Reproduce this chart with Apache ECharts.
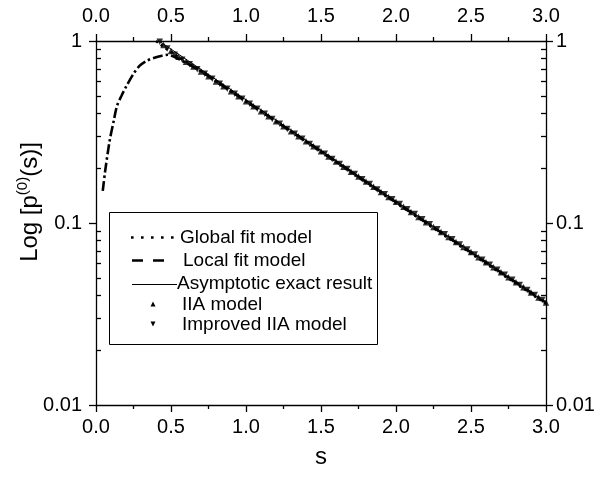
<!DOCTYPE html>
<html>
<head>
<meta charset="utf-8">
<script src="https://cdn.jsdelivr.net/npm/echarts@6/dist/echarts.min.js"></script>
<style>html,body{margin:0;padding:0;background:#fff}#c{width:601px;height:481px}</style>
</head>
<body>
<div id="c"></div>
<script>
// ---- data ----
var xTicks = ['0.0','0.5','1.0','1.5','2.0','2.5','3.0'];
var yTicks = ['0.01','0.1','1'];
var yMinorTicks = [0.02,0.03,0.04,0.05,0.06,0.07,0.08,0.09,0.2,0.3,0.4,0.5,0.6,0.7,0.8,0.9];

var asymS = [0.42, 3.0];
var asymV = [1.0, 0.0365];

var globalS = [0.40,0.45,0.50,0.60,0.70,0.80,0.90,1.00,1.20,1.40,1.60,1.80,2.00,2.20,2.40,2.60,2.80,3.00];
var globalV = [1.0,0.93,0.87,0.77,0.685,0.605,0.532,0.468,0.362,0.280,0.216,0.167,0.129,0.100,0.0775,0.060,0.0465,0.036];

var localS = [0.045,0.06,0.09,0.12,0.14,0.17,0.20,0.25,0.29,0.34,0.39,0.44,0.48,0.52,0.56,0.60,0.70,0.80,1.00,1.50,2.00,2.50,3.00];
var localV = [0.15,0.19,0.28,0.37,0.44,0.50,0.56,0.66,0.73,0.78,0.81,0.83,0.84,0.82,0.79,0.76,0.68,0.60,0.466,0.248,0.130,0.069,0.0365];

var iiaS = [0.45,0.50,0.55,0.60,0.65,0.70,0.75,0.80,0.85,0.90,0.95,1.00,1.05,1.10,1.15,1.20,1.25,1.30,1.35,1.40,1.45,1.50,1.55,1.60,1.65,1.70,1.75,1.80,1.85,1.90,1.95,2.00,2.05,2.10,2.15,2.20,2.25,2.30,2.35,2.40,2.45,2.50,2.55,2.60,2.65,2.70,2.75,2.80,2.85,2.90,2.95,3.00];
var iiaV = [0.95,0.88,0.82,0.77,0.725,0.68,0.64,0.60,0.565,0.53,0.497,0.466,0.438,0.411,0.386,0.362,0.340,0.319,0.300,0.281,0.264,0.248,0.232,0.218,0.204,0.191,0.180,0.169,0.158,0.148,0.139,0.131,0.123,0.115,0.108,0.101,0.0950,0.0892,0.0838,0.0786,0.0737,0.0692,0.0649,0.0609,0.0571,0.0536,0.0503,0.0472,0.0443,0.0415,0.0390,0.0366];

var impS = [0.425,0.475,0.525,0.575,0.625,0.675,0.725,0.775,0.825,0.875,0.925,0.975,1.025,1.075,1.125,1.175,1.225,1.275,1.325,1.375,1.425,1.475,1.525,1.575,1.625,1.675,1.725,1.775,1.825,1.875,1.925,1.975,2.025,2.075,2.125,2.175,2.225,2.275,2.325,2.375,2.425,2.475,2.525,2.575,2.625,2.675,2.725,2.775,2.825,2.875,2.925,2.975];
var impV = [0.99,0.91,0.84,0.79,0.745,0.70,0.66,0.62,0.583,0.546,0.513,0.481,0.452,0.424,0.398,0.373,0.351,0.328,0.309,0.290,0.272,0.256,0.240,0.225,0.211,0.198,0.186,0.174,0.164,0.153,0.144,0.135,0.127,0.119,0.112,0.105,0.0985,0.0923,0.0866,0.0813,0.0762,0.0715,0.0671,0.0629,0.0590,0.0553,0.0519,0.0487,0.0457,0.0428,0.0402,0.0377];

var legendNames = ['Global fit model','Local fit model','Asymptotic exact result','IIA model','Improved IIA model'];

function pairs(a,b){ return a.map(function(v,i){ return [v,b[i]]; }); }

var FONT = '"Liberation Sans", Arial, sans-serif';
var chart = echarts.init(document.getElementById('c'), null, {renderer:'canvas'});

function xAx(pos, showName){
  return {
    type:'value', position:pos, min:0, max:3, interval:0.5,
    name: showName ? 's' : '', nameLocation:'middle', nameGap:40,
    nameTextStyle:{fontFamily:FONT, fontSize:24, color:'#000'},
    axisLine:{show:true, onZero:false, lineStyle:{color:'#000', width:1.3}},
    axisTick:{show:true, inside:false, length:7, lineStyle:{color:'#000', width:1.3}},
    minorTick:{show:true, splitNumber:2, length:4, lineStyle:{color:'#000', width:1.3}},
    splitLine:{show:false}, minorSplitLine:{show:false},
    axisLabel:{show:true, margin: pos==='bottom'?12:15, fontFamily:FONT, fontSize:20, color:'#000',
      formatter:function(v){ return xTicks[Math.round(v/0.5)]; }}
  };
}
function yAx(pos, major){
  var o = {
    type:'log', logBase:10, position:pos, min:0.01, max:1, offset:0,
    splitLine:{show:false},
    axisLine:{show: major, onZero:false, lineStyle:{color:'#000', width:1.3}},
    axisLabel:{show: major, margin: pos==='left'?14:10, fontFamily:FONT, fontSize:20, color:'#000',
      formatter:function(v){ var k = Math.round(Math.log10(v))+2; return yTicks[k]; }}
  };
  if (major) {
    o.axisTick = {show:true, inside:false, length:7, lineStyle:{color:'#000', width:1.3}};
  } else {
    o.axisTick = {show:true, inside:true, length:5, customValues: yMinorTicks, lineStyle:{color:'#000', width:1.3}};
    o.axisLabel.show = false;
  }
  return o;
}

var option = {
  animation:false,
  backgroundColor:'#fff',
  grid:{left:96, right:55, top:41, bottom:76, containLabel:false},
  xAxis:[xAx('bottom', true), xAx('top', false)],
  yAxis:[yAx('left', true), yAx('right', true), yAx('left', false), yAx('right', false)],
  series:[
    {name:legendNames[2], type:'line', data:pairs(asymS, asymV), showSymbol:false, symbol:'none',
      lineStyle:{color:'#000', width:1}, z:3},
    {name:legendNames[1], type:'line', data:pairs(localS, localV), showSymbol:false, symbol:'none', smooth:0.3,
      lineStyle:{color:'#000', width:2.6, type:[10,3,2.5,3]}, z:2},
    {name:legendNames[0], type:'line', data:pairs(globalS, globalV), showSymbol:false, symbol:'none',
      lineStyle:{color:'#000', width:2.6, type:[2.5,3.5]}, z:2},
    {name:legendNames[3], type:'scatter', data:pairs(iiaS, iiaV), symbol:'triangle', symbolSize:6.5,
      itemStyle:{color:'#000'}, z:4},
    {name:legendNames[4], type:'scatter', data:pairs(impS, impV), symbol:'triangle', symbolRotate:180, symbolSize:6.5,
      itemStyle:{color:'#000'}, z:4}
  ],
  graphic:[
    {type:'text', x:30, y:202, rotation:Math.PI/2, z:10,
      style:{text:'Log [p{sup|(0)}(s)]', fontFamily:FONT, fontSize:24, fill:'#000', align:'center', verticalAlign:'middle',
        rich:{sup:{fontFamily:FONT, fontSize:15, fill:'#000', padding:[0,0,14,0]}}}},
    {type:'rect', z:10, shape:{x:109.5, y:212.5, width:268, height:132},
      style:{fill:'#fff', stroke:'#000', lineWidth:1}},
    {type:'line', z:11, shape:{x1:131, y1:237.5, x2:179, y2:237.5},
      style:{stroke:'#000', lineWidth:2.6, lineDash:[2.6,7.4]}},
    {type:'line', z:11, shape:{x1:132, y1:260.5, x2:164, y2:260.5},
      style:{stroke:'#000', lineWidth:2.6, lineDash:[11,10]}},
    {type:'line', z:11, shape:{x1:132, y1:284.5, x2:177, y2:284.5},
      style:{stroke:'#000', lineWidth:1}},
    {type:'polygon', z:11, shape:{points:[[150.5,306.5],[155.5,306.5],[153,301.5]]}, style:{fill:'#000'}},
    {type:'polygon', z:11, shape:{points:[[150.5,321.5],[155.5,321.5],[153,326.5]]}, style:{fill:'#000'}},
    {type:'text', z:11, x:180, y:237.5, style:{text:legendNames[0], fontFamily:FONT, fontSize:19, fill:'#000', verticalAlign:'middle'}},
    {type:'text', z:11, x:183, y:260.5, style:{text:legendNames[1], fontFamily:FONT, fontSize:19, fill:'#000', verticalAlign:'middle'}},
    {type:'text', z:11, x:177, y:284, style:{text:legendNames[2], fontFamily:FONT, fontSize:19, fill:'#000', verticalAlign:'middle'}},
    {type:'text', z:11, x:182, y:304.5, style:{text:legendNames[3], fontFamily:FONT, fontSize:19, fill:'#000', verticalAlign:'middle'}},
    {type:'text', z:11, x:182, y:324.5, style:{text:legendNames[4], fontFamily:FONT, fontSize:19, fill:'#000', verticalAlign:'middle'}}
  ]
};
chart.setOption(option);
</script>
</body>
</html>
